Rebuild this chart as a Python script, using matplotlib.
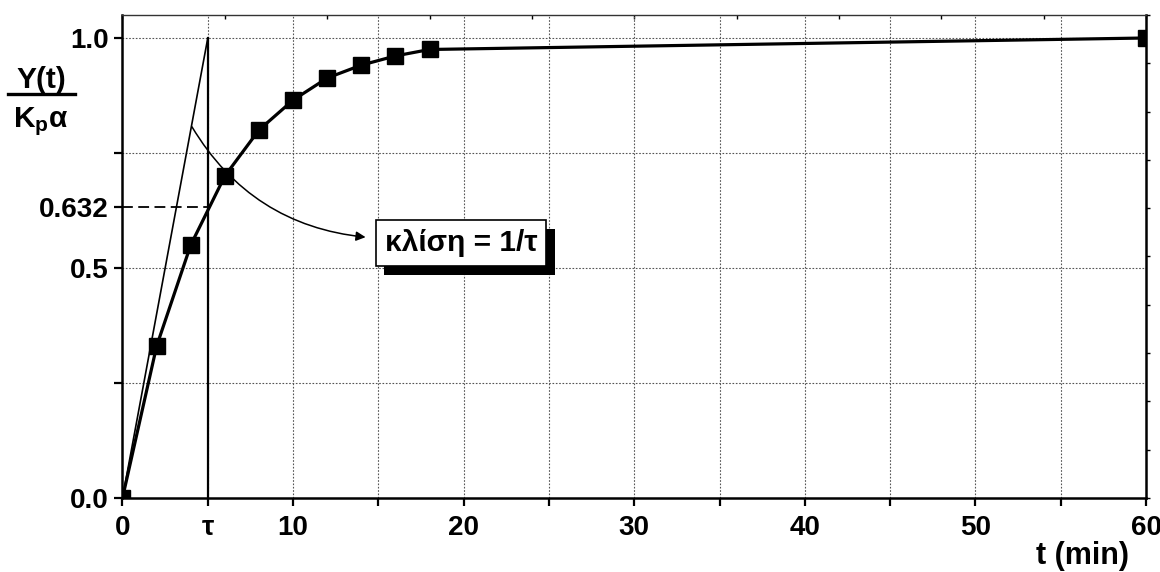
import matplotlib
matplotlib.use("Agg")
import matplotlib.pyplot as plt
import matplotlib.patheffects as pe
import numpy as np

# ---- data ----
t_min = [0, 2, 4, 6, 8, 10, 12, 14, 16, 18, 60]
y_resp = [0.0, 0.33, 0.55, 0.70, 0.80, 0.865, 0.913, 0.941, 0.961, 0.975, 1.0]
tau = 5
y_632 = 0.632
tangent_x = [0, 5]
tangent_y = [0.0, 1.0]
x_major = [0, 5, 10, 20, 30, 40, 50, 60]
x_major_labels = ["0", "τ", "10", "20", "30", "40", "50", "60"]
x_minor = [15, 25, 35, 45, 55]
y_major = [0.0, 0.5, 0.632, 1.0]
y_major_labels = ["0.0", "0.5", "0.632", "1.0"]
y_minor = [0.25, 0.75]
x_grid = [5, 10, 15, 20, 25, 30, 35, 40, 45, 50, 55]
y_grid = [0.25, 0.5, 0.75, 1.0]

plt.rcParams['font.family'] = ['Liberation Sans', 'DejaVu Sans']
plt.rcParams['font.weight'] = 'bold'
plt.rcParams['mathtext.fontset'] = 'custom'
plt.rcParams['mathtext.rm'] = 'Liberation Sans:bold'
plt.rcParams['mathtext.it'] = 'Liberation Sans:bold'
plt.rcParams['mathtext.bf'] = 'Liberation Sans:bold'

fig = plt.figure(figsize=(11.6, 5.72), dpi=100)
ax = fig.add_axes([0.1056, 0.1294, 0.988 - 0.1056, 0.9738 - 0.1294])
ax.set_xlim(0, 60)
ax.set_ylim(0, 1.05)

# grid
for gx in x_grid:
    ax.axvline(gx, color='#555555', lw=0.8, ls=(0, (1.5, 1.5)), zorder=1)
for gy in y_grid:
    ax.axhline(gy, color='#555555', lw=0.8, ls=(0, (1.5, 1.5)), zorder=1)

# response curve
ax.plot(t_min, y_resp, color='black', lw=2.3, marker='s', ms=11,
        mfc='black', mec='black', zorder=5, clip_on=True)

# tangent line
ax.plot(tangent_x, tangent_y, color='black', lw=1.2, zorder=4)
# vertical at tau
ax.plot([tau, tau], [0, 1.0], color='black', lw=1.6, zorder=4)
# dashed 0.632 line
ax.plot([0, tau], [y_632, y_632], color='black', lw=1.3, ls=(0, (6, 3)), zorder=4)

# annotation arrow
ax.annotate('', xy=(14.25, 0.567), xytext=(4.07, 0.807),
            arrowprops=dict(arrowstyle='-|>', color='black', lw=1.1,
                            connectionstyle='arc3,rad=0.25',
                            mutation_scale=14, shrinkA=0, shrinkB=0),
            zorder=6)

label = "κλίση = 1/τ"
box_txt = ax.text(19.85, 0.554, label, fontsize=21.5, fontweight='bold', ha='center',
                  va='center', color='black',
                  bbox=dict(boxstyle='square,pad=0.3', fc='white', ec='black', lw=1.2),
                  zorder=8)
box_txt.get_bbox_patch().set_path_effects([
    pe.SimplePatchShadow(offset=(6, -6.5), shadow_rgbFace='black', alpha=1.0),
    pe.Normal()])

# ticks
ax.set_xticks(x_major)
ax.set_xticklabels(x_major_labels)
ax.set_xticks(x_minor, minor=True)
ax.set_yticks(y_major)
ax.set_yticklabels(y_major_labels)
ax.set_yticks(y_minor, minor=True)
ax.tick_params(axis='both', which='both', direction='out', length=6, width=1.6,
               labelsize=20, top=False, right=False)
ax.tick_params(axis='x', which='major', pad=6)
ax.tick_params(axis='y', which='major', pad=4)
for lab in ax.get_xticklabels() + ax.get_yticklabels():
    lab.set_fontweight('bold')

# spines
ax.spines['left'].set_linewidth(1.8)
ax.spines['bottom'].set_linewidth(1.8)
ax.spines['right'].set_linewidth(1.8)
ax.spines['top'].set_linewidth(1.0)
ax.spines['top'].set_color('#333333')

sec_x = ax.secondary_xaxis('top')
sec_x.set_xticks(np.linspace(0, 60, 11))
sec_x.tick_params(direction='in', length=3, width=1, labeltop=False)
sec_x.spines['top'].set_visible(False)
sec_y = ax.secondary_yaxis('right')
sec_y.set_yticks(np.linspace(0, 1.05, 11))
sec_y.tick_params(direction='out', length=3, width=1, labelright=False)
sec_y.spines['right'].set_visible(False)

# axis labels
fig.text(1083 / 1160, 1 - 556 / 572, "t (min)", fontsize=22, fontweight='bold',
         ha='center', va='center')
fig.text(41 / 1160, 1 - 80 / 572, "Y(t)", fontsize=21.5, fontweight='bold',
         ha='center', va='center')
fig.add_artist(plt.Line2D([8 / 1160, 75 / 1160], [1 - 94 / 572, 1 - 94 / 572],
                          color='black', lw=2.4, transform=fig.transFigure))
fig.text(41 / 1160, 1 - 122 / 572, r"$K_{p}$α", fontsize=21.5, fontweight='bold',
         ha='center', va='center')

fig.savefig("out.png", dpi=100)
